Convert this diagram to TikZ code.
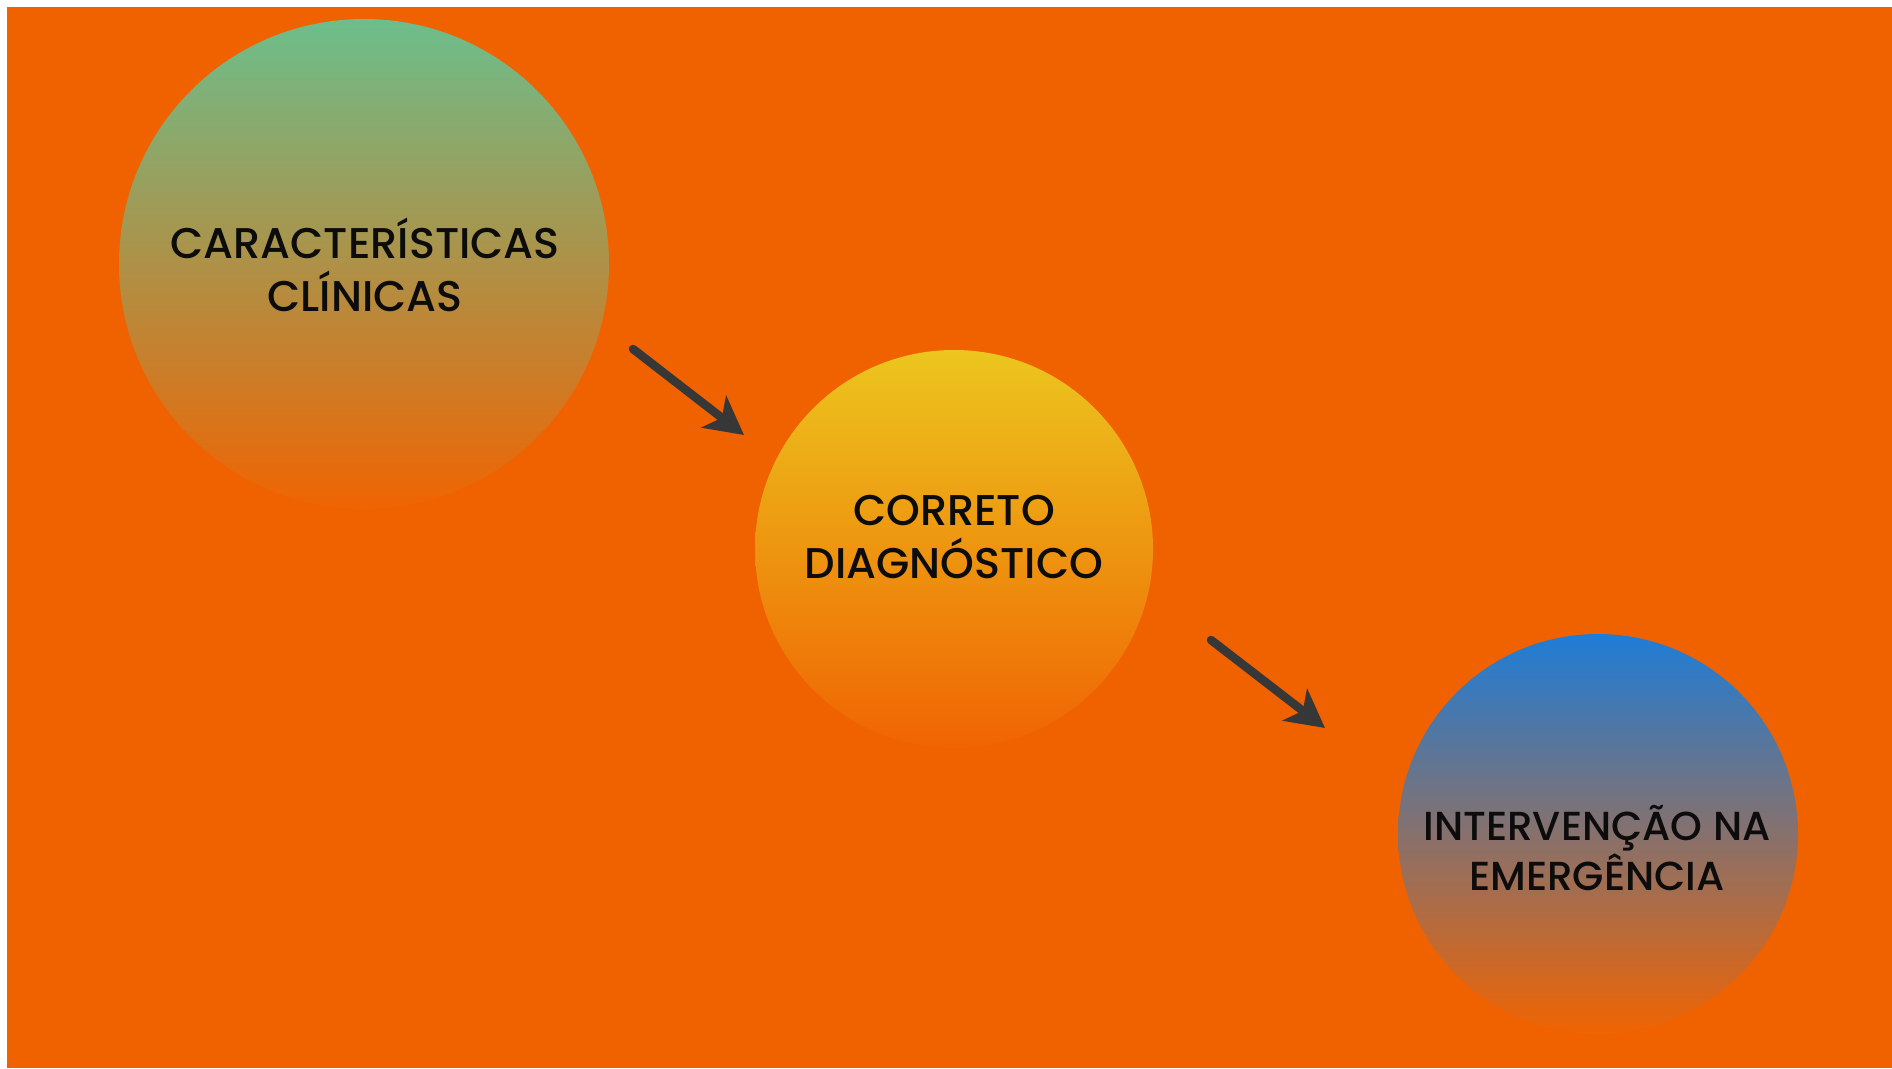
\documentclass[tikz,border=0pt]{standalone}
\usepackage{fontspec}
\newfontfamily\labfont{Poppins}[UprightFont=* Medium]
\usetikzlibrary{arrows.meta}
\definecolor{bg}{RGB}{240,98,0}
\definecolor{gtop}{RGB}{108,190,140}
\definecolor{ytop}{RGB}{236,198,30}
\definecolor{btop}{RGB}{30,125,215}
\definecolor{cbot}{RGB}{240,100,2}
\definecolor{arr}{RGB}{55,55,55}
\definecolor{ink}{RGB}{12,12,12}
\tikzset{
  ball/.style={circle, draw=none, inner sep=0pt, bottom color=cbot},
  label text/.style={font=\labfont\fontsize{43}{53}\selectfont, text=ink, align=center, inner sep=0pt},
  small label/.style={font=\labfont\fontsize{40.5}{50}\selectfont},
  flow/.style={draw=arr, line width=8.5pt, line cap=round, -{Stealth[length=38pt, width=40pt, inset=10pt]}}
}
\begin{document}
\begin{tikzpicture}[x=1pt,y=-1pt]
\useasboundingbox (0,0) rectangle (1892,1068);
\fill[bg] (7,7) rectangle (1892,1068);
\node[ball, minimum size=490pt, top color=gtop] (c1) at (364,264) {};
\node[ball, minimum size=398pt, top color=ytop] (c2) at (954,549) {};
\node[ball, minimum size=400pt, top color=btop] (c3) at (1598,834) {};
\node[label text] (t1) at (365,265) {CARACTERÍSTICAS\\CLÍNICAS};
\node[label text] (t2) at (954,537) {CORRETO\\DIAGNÓSTICO};
\node[label text, small label] (t3) at (1597,848) {INTERVENÇÃO NA\\EMERGÊNCIA};
\coordinate (a1s) at (633,349);
\coordinate (a1e) at (744,435);
\coordinate (a2s) at (1211,640);
\coordinate (a2e) at (1325,728);
\draw[flow] (a1s) -- (a1e);
\draw[flow] (a2s) -- (a2e);
\end{tikzpicture}
\end{document}
